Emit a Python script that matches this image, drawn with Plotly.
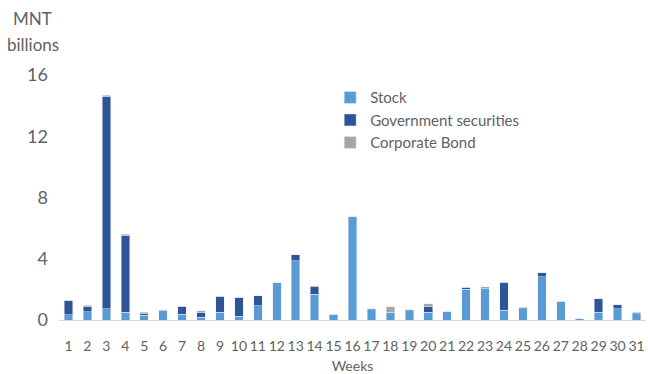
import plotly.graph_objects as go

weeks = [str(i) for i in range(1, 32)]
stock = [0.35, 0.54, 0.74, 0.52, 0.31, 0.59, 0.37, 0.18, 0.52, 0.26,
         0.92, 2.42, 3.86, 1.68, 0.39, 6.73, 0.67, 0.48, 0.59, 0.50,
         0.57, 2.00, 2.03, 0.65, 0.74, 2.83, 1.20, 0.10, 0.52, 0.74, 0.41]
gov = [0.95, 0.33, 13.86, 4.99, 0.10, 0.00, 0.52, 0.30, 1.03, 1.22,
       0.65, 0.00, 0.39, 0.48, 0.00, 0.00, 0.07, 0.02, 0.07, 0.37,
       0.00, 0.15, 0.00, 1.83, 0.09, 0.24, 0.04, 0.00, 0.87, 0.24, 0.09]
corp = [0.00, 0.09, 0.07, 0.09, 0.10, 0.07, 0.00, 0.11, 0.00, 0.00,
        0.00, 0.00, 0.00, 0.09, 0.00, 0.00, 0.00, 0.37, 0.00, 0.20,
        0.00, 0.00, 0.13, 0.00, 0.00, 0.00, 0.00, 0.00, 0.00, 0.00, 0.00]
y_ticks = [0, 4, 8, 12, 16]

FONT = "Lato"
GREY = "#626262"

fig = go.Figure()
fig.add_bar(x=weeks, y=stock, name="Stock", marker_color="#5B9BD5")
fig.add_bar(x=weeks, y=gov, name="Government securities", marker_color="#2F5597")
fig.add_bar(x=weeks, y=corp, name="Corporate Bond", marker_color="#A5A5A5")

fig.update_layout(
    width=648, height=374,
    barmode="stack", bargap=0.55,
    plot_bgcolor="white", paper_bgcolor="white",
    margin=dict(l=59, r=2, t=75, b=54),
    font=dict(family=FONT, color=GREY),
    showlegend=True,
    legend=dict(x=0.462, y=0.975, xanchor="left", yanchor="top",
                traceorder="normal", font=dict(size=15, color=GREY),
                bgcolor="rgba(0,0,0,0)", itemwidth=30, tracegroupgap=0),
    xaxis=dict(type="category", range=[-0.5, 30.5], showgrid=False,
               showline=True, linecolor="#D9D9D9", linewidth=1,
               ticks="", tickfont=dict(size=14, color=GREY),
               ticklabelstandoff=13, automargin=False,
               title=dict(text="Weeks", font=dict(size=14, color=GREY), standoff=10)),
    yaxis=dict(range=[0, 16], tickvals=y_ticks, showgrid=False, zeroline=False,
               showline=False, ticks="", tickfont=dict(size=18, color=GREY),
               ticklabelstandoff=10, automargin=False),
)
fig.add_annotation(text="MNT", xref="paper", yref="paper",
                   x=-0.045, y=1.0, yshift=57, xanchor="center", yanchor="middle",
                   showarrow=False, font=dict(size=17, color=GREY, family=FONT))
fig.add_annotation(text="billions", xref="paper", yref="paper",
                   x=-0.045, y=1.0, yshift=31, xanchor="center", yanchor="middle",
                   showarrow=False, font=dict(size=17, color=GREY, family=FONT))

fig.write_html("out.html")
